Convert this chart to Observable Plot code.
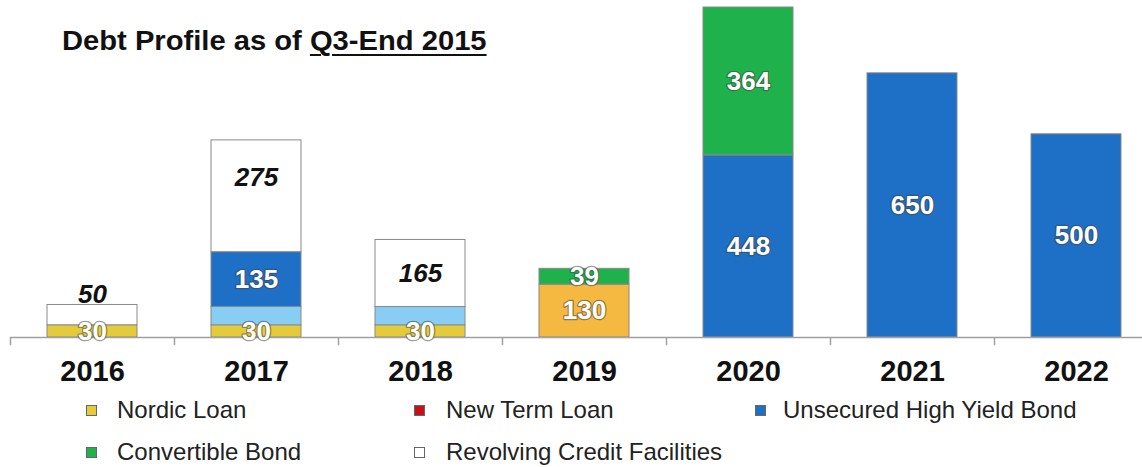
<!DOCTYPE html>
<html><head><meta charset="utf-8">
<script src="https://cdn.jsdelivr.net/npm/d3@7"></script>
<script src="https://cdn.jsdelivr.net/npm/@observablehq/plot@0.6"></script>
<style>
body{margin:0;background:#fff;font-family:"Liberation Sans",Arial,sans-serif;}
#wrap{position:relative;width:1142px;height:467px;overflow:hidden;background:#fff;}
#title{position:absolute;left:62px;top:25px;font-size:27px;font-weight:bold;color:#111;transform:scaleX(1.08);transform-origin:left top;white-space:nowrap;line-height:32px;}
#title u{text-decoration-thickness:2px;text-underline-offset:4px;}
.lg{position:absolute;font-size:24px;color:#222;line-height:28px;white-space:nowrap;}
.sw{position:absolute;width:9px;height:9px;border:1px solid #666;}
</style></head><body>
<div id="wrap">
  <div id="chart"></div>
  <div id="title">Debt Profile as of <u>Q3-End 2015</u></div>
  <div id="legend"></div>
</div>
<script>
// ---- data ----
const years = ["2016", "2017", "2018", "2019", "2020", "2021", "2022"];
const nordicLoan      = [30, 30, 30, 130, 0, 0, 0];
const otherFacility   = [0, 45, 45, 0, 0, 0, 0];
const newTermLoan     = [0, 0, 0, 0, 0, 0, 0];
const highYieldBond   = [0, 135, 0, 0, 448, 650, 500];
const convertibleBond = [0, 0, 0, 39, 364, 0, 0];
const revolvingCredit = [50, 275, 165, 0, 0, 0, 0];

const seriesNames = ["Nordic Loan", "Other Facility", "New Term Loan", "Unsecured High Yield Bond", "Convertible Bond", "Revolving Credit Facilities"];
const seriesValues = [nordicLoan, otherFacility, newTermLoan, highYieldBond, convertibleBond, revolvingCredit];
const legendNames = ["Nordic Loan", "New Term Loan", "Unsecured High Yield Bond", "Convertible Bond", "Revolving Credit Facilities"];

// ---- styling ----
const colors = {
  "Nordic Loan": "#E4CB3C",
  "Other Facility": "#88CDF3",
  "New Term Loan": "#C8101A",
  "Unsecured High Yield Bond": "#1E6FC6",
  "Convertible Bond": "#1FB24C",
  "Revolving Credit Facilities": "#FFFFFF"
};
const nordicLarge = "#F5B841";

const rows = [];
seriesNames.forEach((s, si) => {
  years.forEach((y, yi) => {
    const v = seriesValues[si][yi];
    if (v > 0) rows.push({year: y, series: s, value: v});
  });
});
const totals = years.map((y, i) => d3.sum(seriesValues, arr => arr[i]));

const fillOf = d => (d.series === "Nordic Loan" && d.value > 100) ? nordicLarge : colors[d.series];
const whiteLabeled = new Set(["Nordic Loan", "Unsecured High Yield Bond", "Convertible Bond"]);
const rcf = "Revolving Credit Facilities";

const plot = Plot.plot({
  width: 1142,
  height: 390,
  marginTop: 7, marginBottom: 53, marginLeft: 10, marginRight: 0,
  style: {fontFamily: "'Liberation Sans', Arial, sans-serif", fontWeight: "bold", background: "white"},
  x: {domain: years, range: [10, 1158], paddingInner: 0.45, paddingOuter: 0.225, axis: null, label: null},
  y: {domain: [0, d3.max(totals)], axis: null},
  marks: [
    Plot.barY(rows, Plot.stackY({
      x: "year", y: "value", z: "series", order: seriesNames,
      fill: fillOf, stroke: "#8a8a8a", strokeWidth: 1
    })),
    Plot.ruleY([0], {stroke: "#a0a0a0", strokeWidth: 1.5}),
    Plot.ruleX(years, {x: d => d, y1: 0, y2: -20, dx: -82, stroke: "#a0a0a0", strokeWidth: 1.5}),
    Plot.axisX({tickSize: 0, tickPadding: 23, fontSize: 29, fontWeight: "bold", fill: "#111", label: null}),
    // white labels at segment centers
    Plot.text(rows, Plot.stackY({
      x: "year", y: "value", z: "series", order: seriesNames,
      text: d => whiteLabeled.has(d.series) ? String(d.value) : "",
      fill: "white", stroke: "#444", strokeOpacity: 0.55, strokeWidth: 2.5, paintOrder: "stroke",
      fontSize: 26, fontWeight: "bold"
    })),
    // revolving credit labels (black italic)
    Plot.text(rows, Plot.stackY2({
      x: "year", y: "value", z: "series", order: seriesNames,
      text: d => d.series === rcf && d.year === "2016" ? String(d.value) : "",
      dy: -10, fill: "#111", fontSize: 26, fontWeight: "bold", fontStyle: "italic"
    })),
    Plot.text(rows, Plot.stackY2({
      x: "year", y: "value", z: "series", order: seriesNames,
      text: d => d.series === rcf && d.year === "2017" ? String(d.value) : "",
      dy: 37, fill: "#111", fontSize: 26, fontWeight: "bold", fontStyle: "italic"
    })),
    Plot.text(rows, Plot.stackY({
      x: "year", y: "value", z: "series", order: seriesNames,
      text: d => d.series === rcf && d.year === "2018" ? String(d.value) : "",
      fill: "#111", fontSize: 26, fontWeight: "bold", fontStyle: "italic"
    }))
  ]
});
document.getElementById("chart").appendChild(plot);

// ---- legend (HTML) ----
const legendPos = [
  {sx: 86, tx: 117, cy: 410},
  {sx: 414, tx: 446, cy: 410},
  {sx: 755, tx: 783, cy: 410},
  {sx: 86, tx: 117, cy: 452},
  {sx: 414, tx: 446, cy: 452}
];
const lg = document.getElementById("legend");
legendNames.forEach((name, i) => {
  const p = legendPos[i];
  const sw = document.createElement("div");
  sw.className = "sw";
  sw.style.left = p.sx + "px";
  sw.style.top = (p.cy - 5) + "px";
  sw.style.background = colors[name];
  lg.appendChild(sw);
  const t = document.createElement("div");
  t.className = "lg";
  t.style.left = p.tx + "px";
  t.style.top = (p.cy - 14) + "px";
  t.textContent = name;
  lg.appendChild(t);
});
</script>
</body></html>
